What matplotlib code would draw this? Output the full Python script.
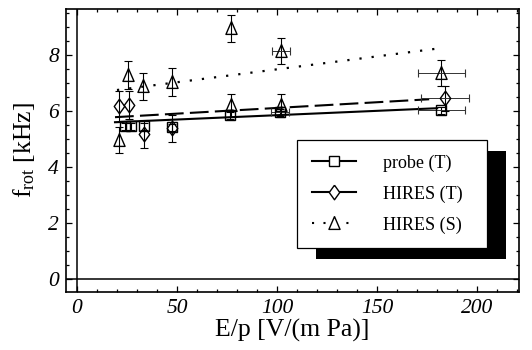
import numpy as np
import matplotlib
matplotlib.use("Agg")
import matplotlib.pyplot as plt
from matplotlib.lines import Line2D
from matplotlib.patches import Rectangle
from matplotlib.ticker import MultipleLocator

plt.rcParams["font.family"] = "Liberation Serif"
plt.rcParams["mathtext.fontset"] = "custom"
plt.rcParams["mathtext.rm"] = "Liberation Serif"
plt.rcParams["mathtext.it"] = "Liberation Serif:italic"

# --- measured rotation frequencies ---------------------------------------
# probe (T)
probe_x    = [24, 27, 33.5, 47.5, 76.5, 101.5, 182]
probe_y    = [5.45, 5.45, 5.45, 5.42, 5.85, 5.95, 6.02]
probe_yerr = [0.12, 0.12, 0.12, 0.12, 0.12, 0.12, 0.12]
probe_xerr = [0, 0, 0, 0, 0, 4.6, 11.7]

# HIRES (T)
hires_t_x    = [21, 26, 33.5, 47.5, 184]
hires_t_y    = [6.17, 6.2, 5.18, 5.38, 6.45]
hires_t_yerr = [0.55, 0.5, 0.5, 0.47, 0.45]
hires_t_xerr = [0, 0, 0, 0, 12]

# HIRES (S)
hires_s_x    = [21, 25.7, 33.2, 47.3, 77, 77, 102, 102, 182]
hires_s_y    = [4.96, 7.29, 6.89, 7.05, 8.95, 6.2, 8.15, 6.2, 7.35]
hires_s_yerr = [0.47, 0.5, 0.48, 0.5, 0.48, 0.4, 0.47, 0.4, 0.47]
hires_s_xerr = [0, 0, 0, 0, 0, 0, 4.6, 0, 11.7]

# linear fits (end points)
probe_fit_x   = [19, 180]
probe_fit_y   = [5.6, 6.1]
hires_t_fit_x = [19, 176]
hires_t_fit_y = [5.78, 6.42]
hires_s_fit_x = [20, 179]
hires_s_fit_y = [6.75, 8.22]

DIAMOND = [(0, 1), (0.72, 0), (0, -1), (-0.72, 0), (0, 1)]
TRIANGLE = [(0, 1), (0.8, -0.85), (-0.8, -0.85), (0, 1)]

fig = plt.figure(figsize=(5.32, 3.50), dpi=100)
ax = fig.add_axes([0.124, 0.166, 0.852, 0.808])

def errs(x, y, yerr, xerr):
    ax.errorbar(x, y, yerr=yerr, fmt="none", ecolor="black",
                elinewidth=0.8, capsize=2.8, capthick=0.8, zorder=3)
    xe = np.array(xerr, dtype=float)
    m = xe > 0
    ax.errorbar(np.array(x)[m], np.array(y)[m], xerr=xe[m], fmt="none",
                ecolor="#333333", elinewidth=0.7, capsize=3, capthick=0.8, zorder=3)

errs(probe_x, probe_y, probe_yerr, probe_xerr)
errs(hires_t_x, hires_t_y, hires_t_yerr, hires_t_xerr)
errs(hires_s_x, hires_s_y, hires_s_yerr, hires_s_xerr)

mk = dict(ls="none", mfc="none", mec="black", mew=1.0, zorder=4)
ax.plot(probe_x, probe_y, marker="s", ms=7, **mk)
ax.plot(hires_t_x, hires_t_y, marker=DIAMOND, ms=10.5, **mk)
ax.plot(hires_s_x, hires_s_y, marker=TRIANGLE, ms=10, **mk)

ax.plot(probe_fit_x, probe_fit_y, color="black", lw=1.5, zorder=2)
ax.plot(hires_t_fit_x, hires_t_fit_y, color="black", lw=1.5,
        dashes=(9, 3), zorder=2)
ax.plot(hires_s_fit_x, hires_s_fit_y, color="black", lw=1.6,
        dashes=(1, 4.5), zorder=2)

ax.axhline(0, color="black", lw=1.1, zorder=1)
ax.axvline(0, color="black", lw=1.1, zorder=1)

ax.set_xlim(-5.5, 221)
ax.set_ylim(-0.46, 9.64)
ax.xaxis.set_major_locator(MultipleLocator(50))
ax.xaxis.set_minor_locator(MultipleLocator(10))
ax.yaxis.set_major_locator(MultipleLocator(2))
ax.yaxis.set_minor_locator(MultipleLocator(0.5))
ax.tick_params(which="both", direction="in", top=True, right=True, width=0.9)
ax.tick_params(which="major", length=4, labelsize=15.5, pad=5)
ax.tick_params(which="minor", length=2)
for lab in ax.get_xticklabels() + ax.get_yticklabels():
    lab.set_fontstyle("italic")
for sp in ax.spines.values():
    sp.set_linewidth(1.2)

ax.set_xlabel("E/p [V/(m Pa)]", fontsize=18.5, labelpad=1)
ax.set_ylabel(r"f$_\mathregular{rot}$ [kHz]", fontsize=18.5, labelpad=8)

handles = [
    Line2D([], [], color="black", lw=1.5, marker="s", ms=7, mfc="white", mec="black"),
    Line2D([], [], color="black", lw=1.5, marker=DIAMOND, ms=10.5, mfc="white", mec="black"),
    Line2D([], [], color="black", lw=1.5, dashes=(1, 4.5), marker=TRIANGLE, ms=10,
           mfc="white", mec="black"),
]
leg = ax.legend(handles, ["probe (T)", "HIRES (T)", "HIRES (S)"],
                loc="upper left", bbox_to_anchor=(0.51, 0.145, 0.419, 0.392),
                mode="expand", fontsize=13, frameon=True, fancybox=False,
                edgecolor="black", framealpha=1, borderpad=0.8,
                labelspacing=0.75, handlelength=2.45, handletextpad=1.5,
                borderaxespad=0)
leg.get_frame().set_linewidth(0.9)
leg.set_zorder(6)

# black drop shadow behind the legend box
fig.canvas.draw()
bb = leg.get_frame().get_window_extent().transformed(fig.transFigure.inverted())
dx, dy = 19 / 532, -11 / 350
shadow = Rectangle((bb.x0 + dx, bb.y0 + dy), bb.width, bb.height,
                   transform=fig.transFigure, facecolor="black",
                   edgecolor="none", zorder=5.5, clip_on=False)
ax.add_patch(shadow)

fig.savefig("out.png", dpi=100)
